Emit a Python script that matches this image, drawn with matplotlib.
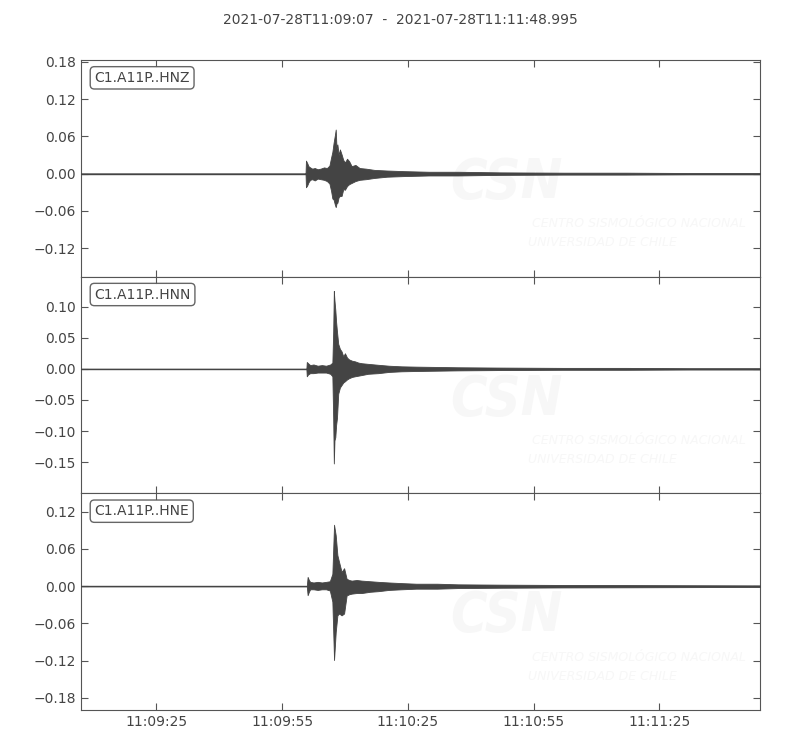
import datetime
import matplotlib
matplotlib.use("Agg")
import matplotlib.pyplot as plt
from matplotlib.ticker import FixedLocator, FuncFormatter

# trace start and end
start = datetime.datetime(2021, 7, 28, 11, 9, 7)
duration = 161.995
title = "2021-07-28T11:09:07  -  2021-07-28T11:11:48.995"

channels = ["C1.A11P..HNZ", "C1.A11P..HNN", "C1.A11P..HNE"]

# envelope readings: seconds after start, upper and lower amplitude
hnz_t = [0, 53.6, 53.7, 54.0, 54.3, 54.7, 55.2, 55.8, 56.5, 57.2, 58.0, 58.7, 59.3, 59.7, 60.0,
         60.3, 60.6, 60.8, 61.0, 61.2, 61.5, 61.8, 62.2, 62.6, 63.0, 63.5, 64.0, 64.6, 65.5, 66.5,
         68, 70, 73, 77, 83, 90, 100, 115, 130, 145, 162]
hnz_hi = [0, 0, 0.021, 0.017, 0.012, 0.010, 0.008, 0.009, 0.007, 0.008, 0.010, 0.009, 0.013, 0.026, 0.035,
          0.050, 0.062, 0.071, 0.040, 0.047, 0.030, 0.039, 0.031, 0.022, 0.018, 0.024, 0.020, 0.012, 0.014, 0.009,
          0.008, 0.006, 0.005, 0.004, 0.003, 0.003, 0.002, 0.0015, 0.0015, 0.001, 0.001]
hnz_lo = [0, 0, -0.022, -0.019, -0.014, -0.010, -0.009, -0.011, -0.008, -0.009, -0.010, -0.012, -0.016, -0.028, -0.040,
          -0.042, -0.050, -0.054, -0.048, -0.047, -0.038, -0.036, -0.036, -0.025, -0.026, -0.020, -0.017, -0.015, -0.012, -0.010,
          -0.009, -0.007, -0.005, -0.004, -0.003, -0.003, -0.002, -0.0015, -0.0015, -0.001, -0.001]

hnn_t = [0, 53.8, 53.9, 54.2, 54.7, 55.5, 56.5, 57.5, 58.5, 59.5, 60.0, 60.2, 60.35, 60.5, 60.7,
         60.9, 61.1, 61.4, 61.8, 62.2, 62.6, 63.0, 63.5, 64.0, 64.7, 65.4, 66.2, 67.0, 68.5, 70.9,
         73.5, 76.5, 80, 85, 90, 100, 115, 130, 145, 162]
hnn_hi = [0, 0, 0.011, 0.009, 0.006, 0.007, 0.005, 0.006, 0.005, 0.007, 0.010, 0.060, 0.125, 0.110, 0.095,
          0.075, 0.060, 0.040, 0.032, 0.028, 0.020, 0.025, 0.018, 0.015, 0.013, 0.012, 0.010, 0.009, 0.008, 0.0065,
          0.005, 0.004, 0.0035, 0.003, 0.0025, 0.002, 0.0015, 0.0015, 0.001, 0.001]
hnn_lo = [0, 0, -0.012, -0.009, -0.007, -0.007, -0.006, -0.006, -0.006, -0.008, -0.012, -0.080, -0.152, -0.115, -0.110,
          -0.090, -0.079, -0.040, -0.030, -0.026, -0.022, -0.020, -0.017, -0.015, -0.013, -0.012, -0.011, -0.010, -0.008, -0.007,
          -0.005, -0.004, -0.0035, -0.003, -0.0025, -0.002, -0.0015, -0.0015, -0.001, -0.001]

hne_t = [0, 53.9, 54.1, 54.4, 54.7, 55.5, 56.5, 57.5, 58.5, 59.4, 60.0, 60.4, 60.8, 61.2, 61.6,
         62.2, 62.8, 63.4, 64.0, 64.6, 65.8, 67.0, 69, 71.0, 73.5, 76.5, 80, 85, 90, 100,
         115, 130, 145, 162]
hne_hi = [0, 0, 0.015, 0.010, 0.007, 0.006, 0.007, 0.006, 0.007, 0.008, 0.020, 0.099, 0.082, 0.050, 0.039,
          0.023, 0.029, 0.012, 0.010, 0.009, 0.010, 0.009, 0.008, 0.007, 0.006, 0.005, 0.004, 0.004, 0.003, 0.0025,
          0.002, 0.0018, 0.0015, 0.0012]
hne_lo = [0, 0, -0.0145, -0.009, -0.005, -0.005, -0.006, -0.005, -0.005, -0.007, -0.025, -0.119, -0.074, -0.047, -0.044,
          -0.047, -0.044, -0.015, -0.013, -0.012, -0.011, -0.011, -0.009, -0.008, -0.006, -0.005, -0.004, -0.004, -0.003, -0.0025,
          -0.002, -0.0018, -0.0015, -0.0012]

# per-panel y range and ticks
ylims = [(-0.166, 0.183), (-0.2, 0.148), (-0.1995, 0.1496)]
yticks = [[-0.12, -0.06, 0.0, 0.06, 0.12, 0.18],
          [-0.15, -0.10, -0.05, 0.0, 0.05, 0.10],
          [-0.18, -0.12, -0.06, 0.0, 0.06, 0.12]]
xticks = [18, 48, 78, 108, 138]

traces = [(hnz_t, hnz_hi, hnz_lo), (hnn_t, hnn_hi, hnn_lo), (hne_t, hne_hi, hne_lo)]

ink = "#444444"
frame = "#555555"
wm = "#f7f7f7"

fig, axes = plt.subplots(3, 1, sharex=True, figsize=(8, 7.5), dpi=100)
fig.subplots_adjust(left=0.101, right=0.95, top=0.92, bottom=0.0533, hspace=0)
fig.suptitle(title, y=0.982, fontsize=10, color=ink)


def fmt_time(x, pos):
    return (start + datetime.timedelta(seconds=float(x))).strftime("%H:%M:%S")


def fmt_amp(v, pos):
    return ("%.2f" % v).replace("-", "\u2212")


for ax, (t, hi, lo), name, yl, yt in zip(axes, traces, channels, ylims, yticks):
    # faint watermark
    ax.text(0.627, 0.433, "CSN", transform=ax.transAxes, fontsize=40, fontweight="bold",
            fontstyle="italic", fontstretch="condensed", color=wm, ha="center", va="center",
            zorder=0, clip_on=True)
    ax.text(0.664, 0.244, "CENTRO SISMOLÓGICO NACIONAL", transform=ax.transAxes, fontsize=9,
            fontstyle="italic", color=wm, ha="left", va="center", zorder=0, clip_on=True)
    ax.text(0.658, 0.157, "UNIVERSIDAD DE CHILE", transform=ax.transAxes, fontsize=9,
            fontstyle="italic", color=wm, ha="left", va="center", zorder=0, clip_on=True)

    ax.plot([0, duration], [0, 0], color=ink, lw=1.0, zorder=2)
    ax.fill_between(t, lo, hi, color=ink, lw=0.6, edgecolor=ink, zorder=3)

    ax.set_xlim(0, duration)
    ax.set_ylim(*yl)
    ax.yaxis.set_major_locator(FixedLocator(yt))
    ax.yaxis.set_major_formatter(FuncFormatter(fmt_amp))
    ax.tick_params(direction="in", top=True, right=True, length=5, colors=frame,
                   labelcolor=ink, labelsize=10)
    for sp in ax.spines.values():
        sp.set_color(frame)
    ax.text(0.02, 0.95, name, transform=ax.transAxes, fontsize=10, color=ink,
            ha="left", va="top",
            bbox=dict(boxstyle="round,pad=0.3", fc="w", ec=frame, alpha=0.9))

axes[-1].xaxis.set_major_locator(FixedLocator(xticks))
axes[-1].xaxis.set_major_formatter(FuncFormatter(fmt_time))

fig.savefig("out.png", dpi=100)
